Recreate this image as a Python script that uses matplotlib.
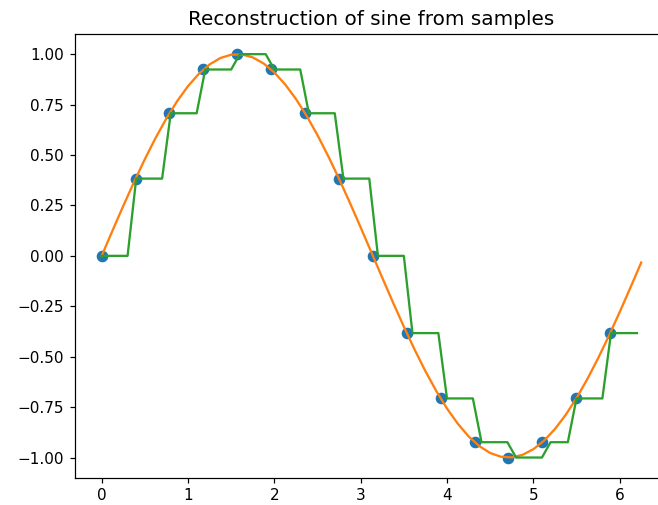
import matplotlib
matplotlib.use("Agg")
import matplotlib.pyplot as plt

# Samples (k*pi/8)
sample_x = [0.0, 0.393, 0.785, 1.178, 1.571, 1.963, 2.356, 2.749, 3.142,
            3.534, 3.927, 4.320, 4.712, 5.105, 5.498, 5.890]
sample_y = [0.0, 0.383, 0.707, 0.924, 1.0, 0.924, 0.707, 0.383, 0.0,
            -0.383, -0.707, -0.924, -1.0, -0.924, -0.707, -0.383]

# Continuous sine curve
curve_x = [i * 0.125 for i in range(51)]
curve_y = [0.0, 0.1247, 0.2474, 0.3663, 0.4794, 0.5851, 0.6816, 0.7675, 0.8415,
           0.9023, 0.9490, 0.9809, 0.9975, 0.9985, 0.9840, 0.9541, 0.9093,
           0.8503, 0.7781, 0.6938, 0.5985, 0.4939, 0.3817, 0.2636, 0.1411,
           0.0166, -0.1082, -0.2313, -0.3508, -0.4648, -0.5716, -0.6695,
           -0.7568, -0.8322, -0.8950, -0.9436, -0.9775, -0.9962, -0.9993,
           -0.9867, -0.9589, -0.9160, -0.8589, -0.7886, -0.7055, -0.6116,
           -0.5083, -0.3969, -0.2794, -0.1575, -0.0332]

# Zero-order hold reconstruction: start and end of each hold
hold_start = [0.0, 0.4, 0.8, 1.2, 1.6, 2.0, 2.4, 2.8, 3.2, 3.6, 4.0, 4.4, 4.8, 5.2, 5.5, 5.9]
hold_end = [0.3, 0.7, 1.1, 1.5, 1.9, 2.3, 2.7, 3.1, 3.5, 3.9, 4.3, 4.7, 5.1, 5.4, 5.8, 6.2]

hold_x, hold_y = [], []
for s, e, v in zip(hold_start, hold_end, sample_y):
    hold_x += [s, e]
    hold_y += [v, v]

W, H = 658, 505
DPI = 110
fig = plt.figure(figsize=(W / DPI, H / DPI), dpi=DPI)
left, right, top, bottom = 74.7, 668.2, 34.0, 477.7
ax = fig.add_axes([left / W, 1 - bottom / H, (right - left) / W, (bottom - top) / H])

ax.plot(sample_x, sample_y, 'o', color='#1f77b4', markersize=6.6)
ax.plot(curve_x, curve_y, color='#ff7f0e', linewidth=1.5)
ax.plot(hold_x, hold_y, color='#2ca02c', linewidth=1.5)
ax.set_title("Reconstruction of sine from samples", fontsize=13.1)

fig.savefig("out.png", dpi=DPI)
